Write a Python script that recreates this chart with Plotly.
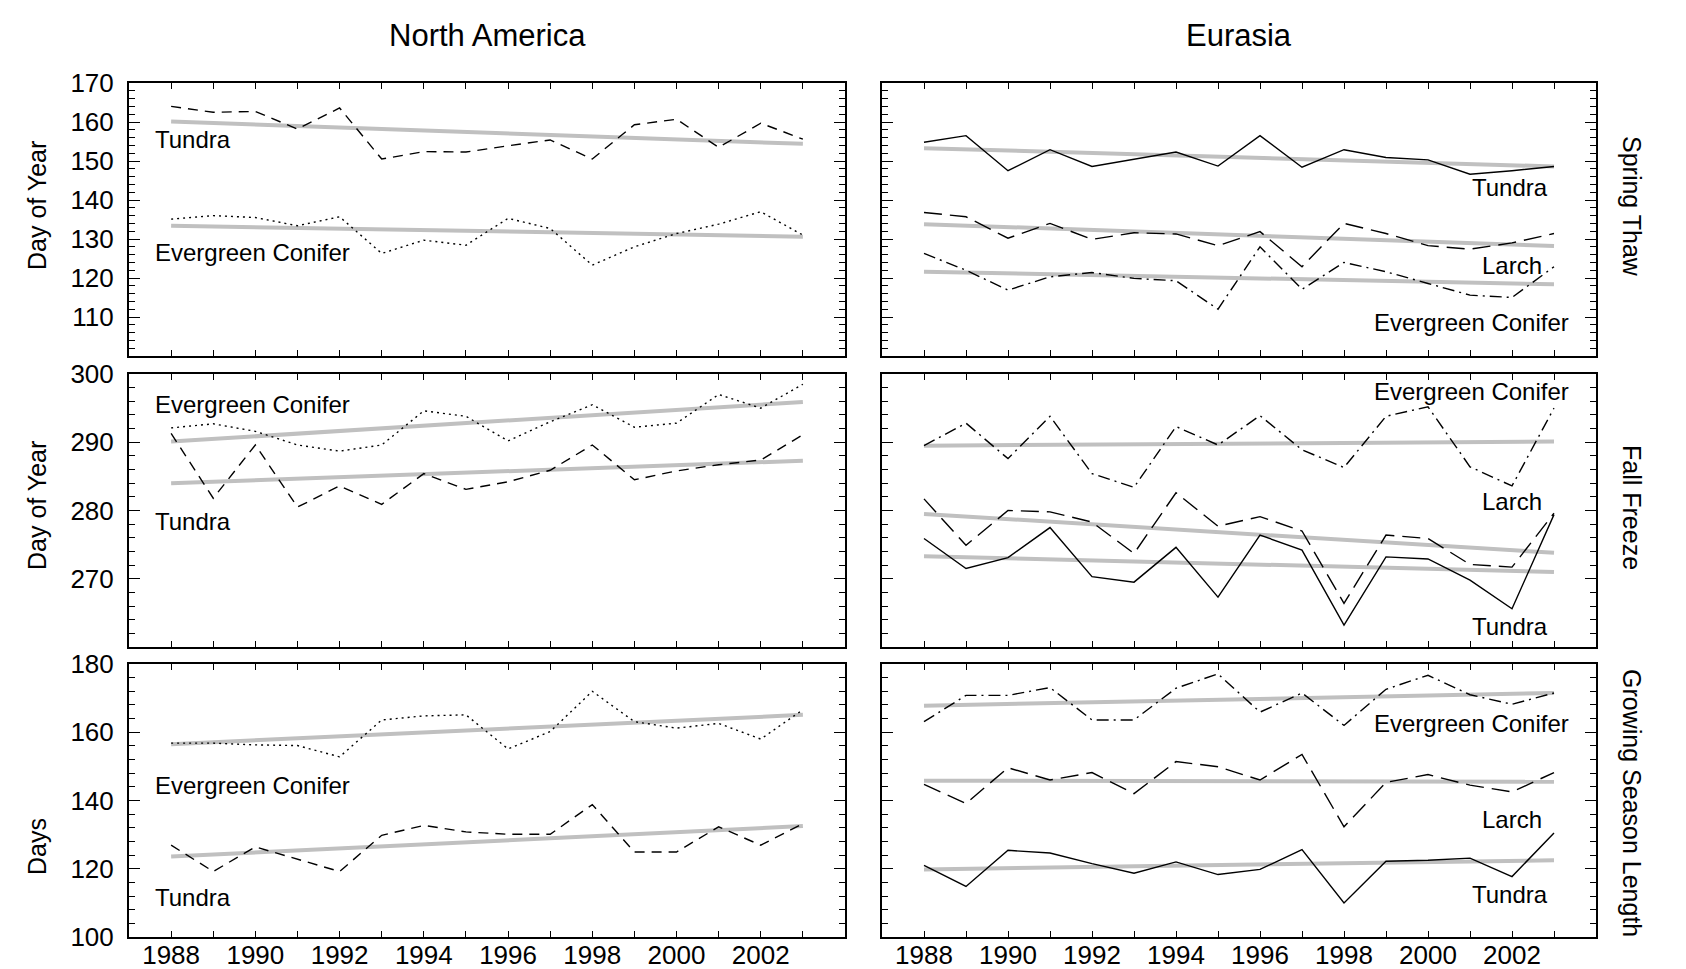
import plotly.graph_objects as go

years = list(range(1988, 2004))
year_labels = [str(y) if y % 2 == 0 else "" for y in years]

# ---- Spring Thaw (day of year) ----
na_thaw_tundra = [164.0, 162.5, 162.7, 158.2, 163.6, 150.5, 152.4, 152.3, 153.9, 155.4, 150.5, 159.3, 160.7, 153.5, 159.7, 155.6]
na_thaw_conifer = [135.1, 136.0, 135.5, 133.4, 135.7, 126.3, 129.7, 128.4, 135.3, 132.7, 123.3, 128.0, 131.4, 133.8, 137.0, 131.0]
eu_thaw_tundra = [154.8, 156.5, 147.5, 152.9, 148.6, 150.5, 152.3, 148.7, 156.5, 148.4, 152.9, 150.9, 150.3, 146.6, 147.5, 148.6]
eu_thaw_larch = [136.8, 135.7, 130.2, 134.0, 129.9, 131.6, 131.3, 128.3, 131.9, 122.9, 134.0, 131.4, 128.3, 127.4, 129.0, 131.4]
eu_thaw_conifer = [126.3, 122.0, 116.9, 120.3, 121.4, 119.9, 119.3, 112.0, 128.0, 117.1, 124.0, 121.6, 118.6, 115.6, 115.0, 122.9]

# ---- Fall Freeze (day of year) ----
na_fall_conifer = [292.1, 292.7, 291.6, 289.6, 288.7, 289.6, 294.6, 293.8, 290.2, 293.0, 295.5, 292.2, 292.8, 297.0, 295.0, 298.5]
na_fall_tundra = [291.3, 281.8, 289.6, 280.5, 283.6, 280.9, 285.4, 283.1, 284.2, 285.9, 289.6, 284.5, 285.8, 286.7, 287.4, 291.1]
eu_fall_conifer = [289.5, 292.8, 287.6, 293.8, 285.4, 283.4, 292.3, 289.6, 293.9, 288.9, 286.3, 293.8, 295.2, 286.4, 283.6, 295.0]
eu_fall_larch = [281.7, 274.9, 280.0, 279.8, 278.3, 273.7, 282.6, 277.7, 279.1, 277.0, 266.4, 276.4, 275.9, 272.1, 271.7, 279.6]
eu_fall_tundra = [275.9, 271.5, 273.1, 277.5, 270.3, 269.5, 274.6, 267.3, 276.4, 274.2, 263.2, 273.2, 272.9, 269.8, 265.6, 279.4]

# ---- Growing Season Length (days) ----
na_gsl_conifer = [156.8, 156.8, 156.3, 156.1, 152.8, 163.6, 164.8, 165.1, 155.1, 160.2, 172.0, 163.1, 161.2, 162.6, 158.0, 166.6]
na_gsl_tundra = [126.9, 119.2, 126.4, 122.9, 119.2, 129.8, 132.7, 130.8, 130.1, 130.1, 138.8, 124.9, 124.9, 132.3, 126.9, 133.2]
eu_gsl_conifer = [163.1, 170.8, 170.8, 173.1, 163.6, 163.6, 172.9, 177.1, 165.9, 171.5, 162.0, 172.6, 176.7, 171.0, 168.2, 171.5]
eu_gsl_larch = [144.7, 139.1, 149.6, 146.0, 148.2, 142.0, 151.4, 149.9, 146.0, 153.5, 132.3, 145.3, 147.6, 144.5, 142.5, 148.2]
eu_gsl_tundra = [121.0, 114.8, 125.4, 124.6, 121.5, 118.7, 122.0, 118.3, 119.8, 125.6, 110.0, 122.2, 122.5, 123.1, 117.7, 130.5]

# ---- Trend line end values (1988, 2003) ----
trend_years = [1988, 2003]
na_thaw_tundra_trend = [160.1, 154.4]
na_thaw_conifer_trend = [133.4, 130.6]
eu_thaw_tundra_trend = [153.3, 148.6]
eu_thaw_larch_trend = [133.8, 128.2]
eu_thaw_conifer_trend = [121.6, 118.4]
na_fall_conifer_trend = [290.1, 295.9]
na_fall_tundra_trend = [284.0, 287.3]
eu_fall_conifer_trend = [289.5, 290.1]
eu_fall_larch_trend = [279.5, 273.8]
eu_fall_tundra_trend = [273.3, 271.0]
na_gsl_conifer_trend = [156.5, 165.1]
na_gsl_tundra_trend = [123.6, 132.5]
eu_gsl_conifer_trend = [167.8, 171.5]
eu_gsl_larch_trend = [145.8, 145.5]
eu_gsl_tundra_trend = [119.8, 122.5]

col_titles = ["North America", "Eurasia"]
row_titles = ["Spring Thaw", "Fall Freeze", "Growing Season Length"]
y_titles = ["Day of Year", "Day of Year", "Days"]
y_ranges = [[100, 170], [260, 300], [100, 180]]
y_ticks = [[110, 120, 130, 140, 150, 160, 170], [270, 280, 290, 300], [100, 120, 140, 160, 180]]
y_minor = [2, 2, 4]

FONT = "Liberation Sans, Arial, Helvetica, sans-serif"
DASH = {
    "na_tundra": "10px,7px",
    "na_conifer": "2px,4px",
    "eu_tundra": "solid",
    "eu_larch": "18px,8px",
    "eu_conifer": "12px,5px,2px,5px",
}

panels = {
    (0, 0): [(na_thaw_tundra, na_thaw_tundra_trend, "na_tundra"),
             (na_thaw_conifer, na_thaw_conifer_trend, "na_conifer")],
    (0, 1): [(eu_thaw_tundra, eu_thaw_tundra_trend, "eu_tundra"),
             (eu_thaw_larch, eu_thaw_larch_trend, "eu_larch"),
             (eu_thaw_conifer, eu_thaw_conifer_trend, "eu_conifer")],
    (1, 0): [(na_fall_conifer, na_fall_conifer_trend, "na_conifer"),
             (na_fall_tundra, na_fall_tundra_trend, "na_tundra")],
    (1, 1): [(eu_fall_conifer, eu_fall_conifer_trend, "eu_conifer"),
             (eu_fall_larch, eu_fall_larch_trend, "eu_larch"),
             (eu_fall_tundra, eu_fall_tundra_trend, "eu_tundra")],
    (2, 0): [(na_gsl_conifer, na_gsl_conifer_trend, "na_conifer"),
             (na_gsl_tundra, na_gsl_tundra_trend, "na_tundra")],
    (2, 1): [(eu_gsl_conifer, eu_gsl_conifer_trend, "eu_conifer"),
             (eu_gsl_larch, eu_gsl_larch_trend, "eu_larch"),
             (eu_gsl_tundra, eu_gsl_tundra_trend, "eu_tundra")],
}

labels = {
    (0, 0): [("Tundra", 1987.58, 155.4), ("Evergreen Conifer", 1987.58, 126.5)],
    (0, 1): [("Tundra", 2002.9, 143.3), ("Larch", 2002.76, 123.1), ("Evergreen Conifer", 2003.4, 108.5)],
    (1, 0): [("Evergreen Conifer", 1987.58, 295.5), ("Tundra", 1987.58, 278.4)],
    (1, 1): [("Evergreen Conifer", 2003.4, 297.4), ("Larch", 2002.76, 281.3), ("Tundra", 2002.9, 263.0)],
    (2, 0): [("Evergreen Conifer", 1987.58, 144.5), ("Tundra", 1987.58, 111.6)],
    (2, 1): [("Evergreen Conifer", 2003.4, 162.6), ("Larch", 2002.76, 134.3), ("Tundra", 2002.9, 112.4)],
}

W, H = 1686, 969
x_px = [(129, 845), (882, 1596)]
y_px = [(83, 356), (374, 647), (664, 937)]

fig = go.Figure()
layout = dict(
    width=W, height=H,
    margin=dict(l=0, r=0, t=0, b=0, pad=0),
    paper_bgcolor="white", plot_bgcolor="white",
    showlegend=False,
    font=dict(family=FONT, color="black", size=24),
)
annotations = []

for (r, c), series in panels.items():
    n = r * 2 + c + 1
    xs = "" if n == 1 else str(n)
    xref, yref = "x" + xs, "y" + xs
    for vals, trend, style in series:
        fig.add_trace(go.Scatter(x=trend_years, y=trend, mode="lines",
                                 line=dict(color="#c0c0c0", width=4),
                                 xaxis=xref, yaxis=yref, hoverinfo="skip"))
    for vals, trend, style in series:
        fig.add_trace(go.Scatter(x=years, y=vals, mode="lines",
                                 line=dict(color="black", width=1.4, dash=DASH[style]),
                                 xaxis=xref, yaxis=yref))
    x0, x1 = x_px[c]
    y0, y1 = y_px[r]
    layout["xaxis" + xs] = dict(
        domain=[x0 / W, x1 / W], range=[1987, 2004], anchor=yref, automargin=False,
        tickvals=years, ticktext=year_labels, showticklabels=(r == 2),
        ticks="inside", ticklen=6, tickwidth=1.3, tickcolor="black",
        showline=True, linecolor="black", linewidth=2, mirror="ticks",
        showgrid=False, zeroline=False,
        tickfont=dict(size=26, family=FONT, color="black"),
        ticklabelstandoff=-6,
    )
    layout["yaxis" + xs] = dict(
        domain=[1 - y1 / H, 1 - y0 / H], range=y_ranges[r], anchor=xref, automargin=False,
        tickvals=y_ticks[r], showticklabels=(c == 0),
        ticks="inside", ticklen=11, tickwidth=1.3, tickcolor="black",
        minor=dict(ticks="inside", ticklen=6, dtick=y_minor[r], tickwidth=1.3,
                   tickcolor="black", showgrid=False),
        showline=True, linecolor="black", linewidth=2, mirror="ticks",
        showgrid=False, zeroline=False,
        tickfont=dict(size=26, family=FONT, color="black"),
        ticklabelstandoff=8,
    )
    for text, lx, ly in labels[(r, c)]:
        annotations.append(dict(text=text, x=lx, y=ly, xref=xref, yref=yref,
                                xanchor="left" if c == 0 else "right", yanchor="middle",
                                showarrow=False, font=dict(size=24, family=FONT, color="black")))

for c, t in enumerate(col_titles):
    cx = (x_px[c][0] + x_px[c][1]) / 2 / W
    annotations.append(dict(text=t, x=cx, y=1 - 36 / H, xref="paper", yref="paper",
                            xanchor="center", yanchor="middle", showarrow=False,
                            font=dict(size=31, family=FONT, color="black")))

ytitle_centers = [206, 506, 847]
row_title_centers = [206, 507, 803]
for r in range(3):
    annotations.append(dict(text=y_titles[r], x=37 / W, y=1 - ytitle_centers[r] / H,
                            xref="paper", yref="paper", textangle=-90,
                            xanchor="center", yanchor="middle", showarrow=False,
                            font=dict(size=25, family=FONT, color="black")))
    annotations.append(dict(text=row_titles[r], x=1632 / W, y=1 - row_title_centers[r] / H,
                            xref="paper", yref="paper", textangle=90,
                            xanchor="center", yanchor="middle", showarrow=False,
                            font=dict(size=25, family=FONT, color="black")))

layout["annotations"] = annotations
fig.update_layout(**layout)

fig.write_html("out.html", config={"displayModeBar": False},
               post_script="document.body.style.margin='0';")
